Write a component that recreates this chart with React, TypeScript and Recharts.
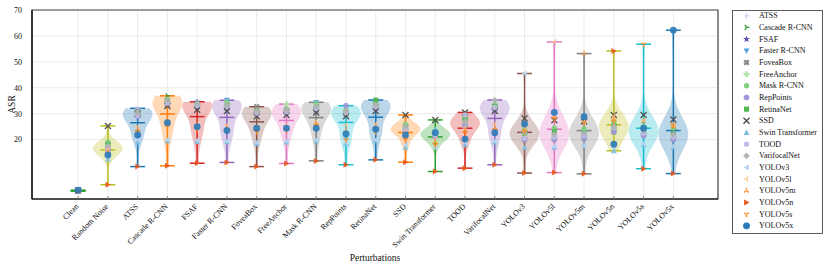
import React from "react";
import {
  Area,
  CartesianGrid,
  ComposedChart,
  Line,
  ReferenceArea,
  Scatter,
  XAxis,
  YAxis,
} from "recharts";

const perturbations = [
  "Clean", "Random Noise", "ATSS", "Cascade R-CNN", "FSAF", "Faster R-CNN", "FoveaBox",
  "FreeAnchor", "Mask R-CNN", "RepPoints", "RetinaNet", "SSD", "Swin Transformer", "TOOD",
  "VarifocalNet", "YOLOv3", "YOLOv5l", "YOLOv5m", "YOLOv5n", "YOLOv5s", "YOLOv5x",
];

const models = [
  "ATSS", "Cascade R-CNN", "FSAF", "Faster R-CNN", "FoveaBox", "FreeAnchor", "Mask R-CNN",
  "RepPoints", "RetinaNet", "SSD", "Swin Transformer", "TOOD", "VarifocalNet", "YOLOv3",
  "YOLOv5l", "YOLOv5m", "YOLOv5n", "YOLOv5s", "YOLOv5x",
];

// ASR of each model (in `models` order) under each perturbation
const clean = [0.3, 0.3, 0.3, 0.3, 0.3, 0.3, 0.3, 0.3, 0.3, 0.4, 0.3, 0.3, 0.3, 0.2, 0.3, 0.3, 0.1, 0.3, 0.5];
const randomNoise = [17.0, 18.5, 16.5, 18.0, 16.5, 17.0, 19.0, 16.0, 18.0, 25.3, 12.5, 17.0, 17.5, 13.5, 16.0, 15.5, 2.6, 14.5, 14.1];
const atss = [32.1, 30.5, 29.8, 29.2, 30.8, 29.5, 30.1, 29.0, 30.3, 30.0, 19.0, 29.4, 30.6, 20.0, 25.0, 24.0, 9.6, 23.0, 21.8];
const cascadeRcnn = [34.0, 36.9, 34.5, 35.0, 33.5, 34.2, 35.5, 33.8, 34.8, 33.0, 19.5, 34.0, 35.2, 20.0, 27.0, 26.0, 9.9, 25.0, 26.5];
const fsaf = [33.0, 33.5, 34.6, 33.2, 32.5, 33.0, 33.8, 32.8, 33.6, 31.5, 19.2, 33.2, 34.0, 19.8, 26.0, 25.0, 10.9, 24.0, 25.0];
const fasterRcnn = [32.5, 34.0, 32.8, 35.2, 32.0, 32.6, 34.5, 32.3, 33.0, 31.0, 19.2, 32.8, 33.4, 19.5, 25.5, 24.5, 11.2, 23.5, 23.5];
const foveaBox = [30.5, 31.0, 30.2, 30.0, 32.7, 30.4, 31.2, 29.8, 30.8, 29.0, 18.5, 30.3, 31.0, 19.0, 25.0, 24.0, 9.6, 23.0, 24.4];
const freeAnchor = [31.0, 31.5, 30.8, 30.5, 30.6, 33.7, 31.8, 30.2, 31.2, 29.5, 19.0, 30.8, 31.5, 19.5, 25.5, 24.5, 10.8, 23.5, 24.4];
const maskRcnn = [31.5, 33.5, 32.0, 34.4, 31.2, 31.8, 33.8, 31.5, 32.2, 30.5, 19.5, 32.0, 32.8, 20.0, 27.0, 26.0, 11.8, 25.5, 24.4];
const repPoints = [30.0, 31.0, 30.2, 30.5, 29.8, 30.3, 31.2, 33.1, 30.6, 29.0, 18.5, 30.4, 31.0, 19.0, 25.6, 23.5, 10.3, 20.0, 22.2];
const retinaNet = [32.5, 33.5, 32.8, 33.0, 32.2, 32.6, 33.8, 32.0, 35.3, 31.0, 19.5, 32.7, 33.4, 20.0, 26.0, 25.0, 12.2, 23.0, 24.0];
const ssd = [24.5, 25.5, 24.0, 24.8, 23.8, 24.2, 25.8, 23.5, 24.6, 29.5, 17.0, 24.0, 25.0, 18.0, 23.0, 22.0, 11.3, 20.0, 21.8];
const swinTransformer = [22.0, 23.0, 21.8, 22.5, 21.5, 22.0, 23.2, 21.2, 22.3, 27.6, 24.0, 21.8, 22.6, 17.0, 20.0, 19.0, 7.7, 18.0, 22.7];
const tood = [26.0, 27.5, 26.0, 27.0, 25.5, 26.0, 28.5, 25.5, 28.0, 30.5, 18.0, 29.5, 27.0, 19.0, 24.5, 23.5, 9.0, 22.5, 20.2];
const varifocalNet = [32.0, 33.0, 32.2, 32.5, 31.8, 32.0, 33.5, 31.5, 32.8, 31.0, 19.0, 32.4, 35.3, 19.5, 26.0, 24.5, 10.3, 23.5, 22.7];
const yolov3 = [21.0, 23.0, 20.5, 21.5, 20.0, 22.0, 24.0, 20.0, 22.5, 28.2, 17.0, 20.5, 22.5, 45.5, 25.0, 24.0, 7.1, 23.0, 26.0];
const yolov5l = [22.0, 24.0, 20.5, 23.0, 20.5, 21.0, 24.5, 20.0, 23.0, 27.5, 17.0, 21.0, 22.0, 17.5, 57.7, 29.0, 7.3, 28.0, 30.5];
const yolov5m = [21.5, 23.5, 21.0, 22.5, 20.5, 21.5, 24.0, 20.5, 22.5, 27.0, 18.0, 21.5, 22.5, 17.5, 27.0, 53.2, 6.8, 26.5, 28.8];
const yolov5n = [24.0, 26.0, 23.5, 25.0, 23.0, 24.0, 26.5, 23.0, 25.0, 29.5, 15.7, 24.7, 25.0, 17.0, 29.0, 28.0, 54.2, 27.0, 18.2];
const yolov5s = [22.5, 24.5, 22.0, 23.5, 22.0, 22.5, 25.0, 21.5, 23.5, 29.5, 18.0, 22.5, 23.5, 18.5, 27.5, 27.0, 8.8, 56.8, 24.4];
const yolov5x = [21.0, 24.0, 20.5, 22.0, 20.5, 21.0, 24.5, 20.0, 22.0, 27.8, 17.0, 21.0, 22.0, 17.5, 26.0, 25.0, 6.9, 25.5, 62.2];

const asrByPerturbation = [
  clean, randomNoise, atss, cascadeRcnn, fsaf, fasterRcnn, foveaBox, freeAnchor, maskRcnn,
  repPoints, retinaNet, ssd, swinTransformer, tood, varifocalNet, yolov3, yolov5l, yolov5m,
  yolov5n, yolov5s, yolov5x,
];

const violinColors = [
  "#2ca02c", "#bcbd22", "#1f77b4", "#ff7f0e", "#d62728", "#9467bd", "#8c564b", "#e377c2",
  "#7f7f7f", "#17becf", "#1f77b4", "#ff7f0e", "#2ca02c", "#d62728", "#9467bd", "#8c564b",
  "#e377c2", "#7f7f7f", "#bcbd22", "#17becf", "#1f77b4",
];

const markerKinds = [
  "plus", "triRightLines", "star", "triDown", "xFilled", "plusFilled", "hexagon", "octagon",
  "square", "x", "triUp", "circle", "diamond", "triLeft", "triLeftLines", "triUpLines",
  "triRight", "triDownLines", "bigCircle",
];

const markerColors = [
  "#c9c9ee", "#2a9a2a", "#5f53b3", "#4fa3dd", "#8a8a8a", "#aee6a6", "#7fd07f", "#9d97d9",
  "#52b852", "#4a4a4a", "#7fc1e3", "#c2bde8", "#b3b3b3", "#b9d5ef", "#ffc389", "#ff9c40",
  "#e8581a", "#ff8a1c", "#2b7bba",
];

const yTicks = [20, 30, 40, 50, 60, 70];
const xTicks = perturbations.map((_, i) => i);

const FONT = "'Liberation Serif', 'DejaVu Serif', serif";
const VIOLIN_WIDTH = 1;

function gaussianKde(values: number[]) {
  const n = values.length;
  const mean = values.reduce((a, b) => a + b, 0) / n;
  const sd = Math.sqrt(values.reduce((a, v) => a + (v - mean) ** 2, 0) / (n - 1));
  const bw = Math.max(sd * Math.pow(n, -0.2), 1e-6);
  return (y: number) => values.reduce((a, v) => a + Math.exp(-0.5 * ((y - v) / bw) ** 2), 0);
}

// rows for the violin bodies: each v{i} holds the horizontal span [left, right] at that ASR level
function buildViolinRows() {
  const bounds = asrByPerturbation.map((vals) => [Math.min(...vals), Math.max(...vals)]);
  const kdes = asrByPerturbation.map(gaussianKde);
  const peaks = bounds.map(([lo, hi], i) => {
    let m = 0;
    for (let k = 0; k <= 300; k++) m = Math.max(m, kdes[i](lo + ((hi - lo) * k) / 300));
    return m;
  });
  const levels = new Set<number>();
  for (let k = 0; k <= 730; k++) levels.add(Math.round((-3 + k * 0.1) * 1000) / 1000);
  bounds.forEach(([lo, hi]) => {
    levels.add(lo);
    levels.add(hi);
  });
  return [...levels]
    .sort((a, b) => a - b)
    .map((y) => {
      const row: Record<string, any> = { asr: y };
      bounds.forEach(([lo, hi], i) => {
        if (y >= lo - 1e-9 && y <= hi + 1e-9) {
          const half = (0.5 * VIOLIN_WIDTH * kdes[i](y)) / peaks[i];
          row[`v${i}`] = [i - half, i + half];
        } else {
          row[`v${i}`] = null;
        }
      });
      return row;
    });
}

// two-point segments: max cap, min cap, mean line and the bar between min and max
function statSegments(vals: number[], i: number) {
  const lo = Math.min(...vals);
  const hi = Math.max(...vals);
  const mean = vals.reduce((a, b) => a + b, 0) / vals.length;
  const cap = 0.25 * VIOLIN_WIDTH;
  return [
    [{ asr: lo, x: i }, { asr: hi, x: i }],
    [{ asr: hi, x: i - cap }, { asr: hi, x: i + cap }],
    [{ asr: lo, x: i - cap }, { asr: lo, x: i + cap }],
    [{ asr: mean, x: i - cap }, { asr: mean, x: i + cap }],
  ];
}

function poly(cx: number, cy: number, pts: number[][]) {
  return pts.map(([px, py]) => `${cx + px},${cy + py}`).join(" ");
}

function drawMarker(kind: string, color: string, cx: number, cy: number, r = 3) {
  const c30 = 0.866 * r;
  switch (kind) {
    case "plus":
      return <path d={`M${cx - r},${cy}H${cx + r}M${cx},${cy - r}V${cy + r}`} stroke={color} strokeWidth={1} />;
    case "x":
      return <path d={`M${cx - r},${cy - r}L${cx + r},${cy + r}M${cx - r},${cy + r}L${cx + r},${cy - r}`} stroke={color} strokeWidth={1.4} />;
    case "triRightLines":
      return <path d={`M${cx},${cy}L${cx + r},${cy}M${cx},${cy}L${cx - r / 2},${cy - c30}M${cx},${cy}L${cx - r / 2},${cy + c30}`} stroke={color} strokeWidth={1.3} />;
    case "triLeftLines":
      return <path d={`M${cx},${cy}L${cx - r},${cy}M${cx},${cy}L${cx + r / 2},${cy - c30}M${cx},${cy}L${cx + r / 2},${cy + c30}`} stroke={color} strokeWidth={1.3} />;
    case "triUpLines":
      return <path d={`M${cx},${cy}L${cx},${cy - r}M${cx},${cy}L${cx - c30},${cy + r / 2}M${cx},${cy}L${cx + c30},${cy + r / 2}`} stroke={color} strokeWidth={1.3} />;
    case "triDownLines":
      return <path d={`M${cx},${cy}L${cx},${cy + r}M${cx},${cy}L${cx - c30},${cy - r / 2}M${cx},${cy}L${cx + c30},${cy - r / 2}`} stroke={color} strokeWidth={1.3} />;
    case "star": {
      const pts: number[][] = [];
      for (let k = 0; k < 10; k++) {
        const a = -Math.PI / 2 + (k * Math.PI) / 5;
        const rr = k % 2 === 0 ? r * 1.2 : r * 0.5;
        pts.push([rr * Math.cos(a), rr * Math.sin(a)]);
      }
      return <polygon points={poly(cx, cy, pts)} fill={color} />;
    }
    case "triDown":
      return <polygon points={poly(cx, cy, [[-r, -r * 0.8], [r, -r * 0.8], [0, r]])} fill={color} />;
    case "triUp":
      return <polygon points={poly(cx, cy, [[-r, r * 0.8], [r, r * 0.8], [0, -r]])} fill={color} />;
    case "triLeft":
      return <polygon points={poly(cx, cy, [[r * 0.8, -r], [r * 0.8, r], [-r, 0]])} fill={color} />;
    case "triRight":
      return <polygon points={poly(cx, cy, [[-r * 0.8, -r], [-r * 0.8, r], [r, 0]])} fill={color} />;
    case "plusFilled":
    case "xFilled": {
      const t = r * 0.38;
      const base = [[-t, -r], [t, -r], [t, -t], [r, -t], [r, t], [t, t], [t, r], [-t, r], [-t, t], [-r, t], [-r, -t], [-t, -t]];
      const pts = kind === "xFilled" ? base.map(([px, py]) => [(px - py) * 0.75, (px + py) * 0.75]) : base;
      return <polygon points={poly(cx, cy, pts)} fill={color} />;
    }
    case "hexagon":
    case "octagon": {
      const n = kind === "hexagon" ? 6 : 8;
      const pts: number[][] = [];
      for (let k = 0; k < n; k++) {
        const a = (k * 2 * Math.PI) / n + (n === 6 ? Math.PI / 2 : Math.PI / 8);
        pts.push([r * Math.cos(a), r * Math.sin(a)]);
      }
      return <polygon points={poly(cx, cy, pts)} fill={color} />;
    }
    case "square":
      return <rect x={cx - r * 0.85} y={cy - r * 0.85} width={r * 1.7} height={r * 1.7} fill={color} />;
    case "diamond":
      return <polygon points={poly(cx, cy, [[0, -r * 1.1], [r * 1.1, 0], [0, r * 1.1], [-r * 1.1, 0]])} fill={color} />;
    case "bigCircle":
      return <circle cx={cx} cy={cy} r={r * 1.15} fill={color} />;
    default:
      return <circle cx={cx} cy={cy} r={r * 0.9} fill={color} />;
  }
}

function PerturbationTick(props: any) {
  const { x, y, payload } = props;
  const tx = x + 1;
  const ty = y + 8;
  return (
    <g>
      <line x1={x} x2={x} y1={y} y2={y - 3} stroke="#888" strokeWidth={1} />
      <text
        x={tx}
        y={ty}
        transform={`rotate(-45 ${tx} ${ty})`}
        textAnchor="end"
        fontSize={8}
        fontFamily={FONT}
        fill="#111"
      >
        {perturbations[payload.value]}
      </text>
    </g>
  );
}

function Legend() {
  return (
    <svg width={830} height={271} style={{ position: "absolute", left: 0, top: 0, pointerEvents: "none" }}>
      <rect x={732.5} y={10.5} width={90} height={223} fill="#fff" stroke="#333" strokeWidth={0.8} />
      {models.map((name, k) => {
        const cy = 15.8 + k * 11.67;
        return (
          <g key={name}>
            {drawMarker(markerKinds[k], markerColors[k], 746.5, cy, 3)}
            <text x={759} y={cy} dominantBaseline="central" fontSize={8} fontFamily={FONT} fill="#111">
              {name}
            </text>
          </g>
        );
      })}
    </svg>
  );
}

export default function App() {
  const violinRows = buildViolinRows();
  return (
    <div style={{ position: "absolute", left: 0, top: 0, width: 830, height: 271, background: "#fff" }}>
      <ComposedChart
        width={830}
        height={271}
        layout="vertical"
        data={violinRows}
        margin={{ top: 10, right: 112, bottom: 0, left: 0 }}
      >
        <CartesianGrid stroke="#ebebeb" strokeWidth={1} />
        <XAxis
          type="number"
          dataKey="x"
          domain={[-1.55, 21.5]}
          allowDataOverflow
          ticks={xTicks}
          interval={0}
          height={72}
          tickSize={0}
          tickMargin={0}
          tickLine={false}
          axisLine={{ stroke: "#000", strokeWidth: 1.2 }}
          tick={<PerturbationTick />}
          label={{
            content: () => (
              <text x={375} y={261} textAnchor="middle" fontSize={9.5} fontFamily={FONT} fill="#111">
                Perturbations
              </text>
            ),
          }}
        />
        <YAxis
          type="number"
          dataKey="asr"
          domain={[-2.9, 70]}
          reversed
          allowDataOverflow
          ticks={yTicks}
          width={32}
          tickLine={false}
          tickMargin={4}
          axisLine={{ stroke: "#000", strokeWidth: 1.2 }}
          tick={{ fontSize: 8, fontFamily: FONT, fill: "#111" }}
          label={{
            content: () => (
              <text
                x={12}
                y={104.5}
                transform="rotate(-90 12 104.5)"
                textAnchor="middle"
                dominantBaseline="central"
                fontSize={9.5}
                fontFamily={FONT}
                fill="#111"
              >
                ASR
              </text>
            ),
          }}
        />
        <ReferenceArea
          x1={-1.55}
          x2={21.5}
          y1={-2.9}
          y2={70}
          fill="none"
          stroke="#444"
          strokeWidth={1.2}
          ifOverflow="visible"
        />
        {perturbations.map((p, i) => (
          <Area
            key={`violin-${p}`}
            dataKey={`v${i}`}
            type="linear"
            fill={violinColors[i]}
            fillOpacity={0.3}
            stroke="none"
            dot={false}
            activeDot={false}
            isAnimationActive={false}
          />
        ))}
        {perturbations.flatMap((p, i) =>
          statSegments(asrByPerturbation[i], i).map((seg, s) => (
            <Line
              key={`stats-${p}-${s}`}
              data={seg}
              dataKey="x"
              type="linear"
              stroke={violinColors[i]}
              strokeWidth={1.5}
              dot={false}
              activeDot={false}
              isAnimationActive={false}
            />
          ))
        )}
        {models.map((m, k) => (
          <Scatter
            key={`model-${m}`}
            name={m}
            data={asrByPerturbation.map((vals, i) => ({ x: i, asr: vals[k] }))}
            isAnimationActive={false}
            shape={(props: any) => (
              <g opacity={0.9}>{drawMarker(markerKinds[k], markerColors[k], props.cx, props.cy, 3)}</g>
            )}
          />
        ))}
      </ComposedChart>
      <Legend />
    </div>
  );
}
